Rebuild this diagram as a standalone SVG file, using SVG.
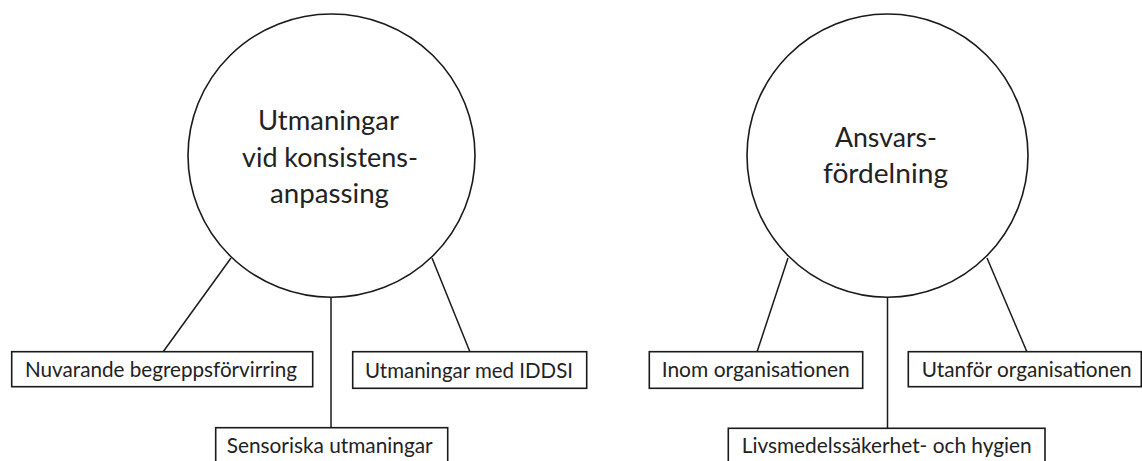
<svg xmlns="http://www.w3.org/2000/svg" width="1142" height="461" viewBox="0 0 1142 461">
  <style>
    .hub { fill: #ffffff; stroke: #1a1a1a; stroke-width: 1.6; }
    .leaf { fill: #ffffff; stroke: #1a1a1a; stroke-width: 1.6; }
    .link { stroke: #1a1a1a; stroke-width: 1.5; fill: none; }
    .hub-label { font-family: "Lato", "Open Sans", sans-serif; font-size: 27px; fill: #222222; }
    .leaf-label { font-family: "Lato", "Open Sans", sans-serif; font-size: 21px; fill: #222222; }
  </style>
  <rect width="1142" height="461" fill="#ffffff"/>

  <!-- connectors -->
  <g id="connectors">
    <line class="link" x1="231" y1="258" x2="163" y2="352"/>
    <line class="link" x1="432" y1="258" x2="470" y2="352"/>
    <line class="link" x1="331" y1="297" x2="331" y2="428"/>
    <line class="link" x1="788" y1="258" x2="757" y2="352"/>
    <line class="link" x1="987" y1="258" x2="1027" y2="352"/>
    <line class="link" x1="887.5" y1="297" x2="887.5" y2="428"/>
  </g>

  <!-- hub: consistency adaptation challenges -->
  <g id="hub-utmaningar">
    <ellipse class="hub" cx="331.5" cy="155.6" rx="143.5" ry="141.6"/>
    <text class="hub-label" x="258" y="130" textLength="141" lengthAdjust="spacingAndGlyphs">Utmaningar</text>
    <text class="hub-label" x="242" y="167" textLength="176" lengthAdjust="spacingAndGlyphs">vid konsistens-</text>
    <text class="hub-label" x="270" y="203" textLength="119" lengthAdjust="spacingAndGlyphs">anpassing</text>
  </g>

  <!-- hub: division of responsibility -->
  <g id="hub-ansvar">
    <ellipse class="hub" cx="887.5" cy="155.6" rx="140.5" ry="141.6"/>
    <text class="hub-label" x="835" y="147" textLength="102" lengthAdjust="spacingAndGlyphs">Ansvars-</text>
    <text class="hub-label" x="823" y="183" textLength="125" lengthAdjust="spacingAndGlyphs">fördelning</text>
  </g>

  <g id="leaf-begrepp">
    <rect class="leaf" x="11.7" y="351.7" width="301" height="35"/>
    <text class="leaf-label" x="25" y="376.7" textLength="272" lengthAdjust="spacingAndGlyphs">Nuvarande begreppsförvirring</text>
  </g>

  <g id="leaf-iddsi">
    <rect class="leaf" x="352.7" y="351.7" width="234" height="36.6"/>
    <text class="leaf-label" x="365" y="377.5" textLength="208" lengthAdjust="spacingAndGlyphs">Utmaningar med IDDSI</text>
  </g>

  <g id="leaf-sensorik">
    <rect class="leaf" x="215.7" y="427.7" width="232" height="40"/>
    <text class="leaf-label" x="226.7" y="452.7" textLength="206" lengthAdjust="spacingAndGlyphs">Sensoriska utmaningar</text>
  </g>

  <g id="leaf-inom">
    <rect class="leaf" x="649.3" y="351.7" width="213.4" height="36.6"/>
    <text class="leaf-label" x="661.7" y="376.7" textLength="188" lengthAdjust="spacingAndGlyphs">Inom organisationen</text>
  </g>

  <g id="leaf-utanfor">
    <rect class="leaf" x="908.3" y="351.7" width="233" height="35"/>
    <text class="leaf-label" x="921.7" y="376.7" textLength="210" lengthAdjust="spacingAndGlyphs">Utanför organisationen</text>
  </g>

  <g id="leaf-livsmedel">
    <rect class="leaf" x="728.3" y="428.3" width="316.7" height="40"/>
    <text class="leaf-label" x="741.7" y="453.3" textLength="290" lengthAdjust="spacingAndGlyphs">Livsmedelssäkerhet- och hygien</text>
  </g>
</svg>
